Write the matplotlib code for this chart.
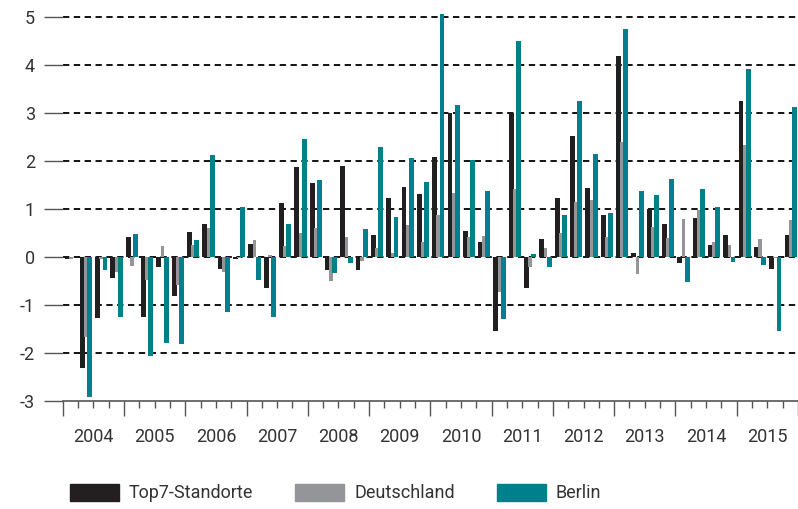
import numpy as np
import matplotlib.pyplot as plt
from matplotlib.patches import Patch

plt.rcParams['font.family'] = ['Roboto', 'DejaVu Sans']

years = ['2004', '2005', '2006', '2007', '2008', '2009',
         '2010', '2011', '2012', '2013', '2014', '2015']

# quarterly values, 2004 Q1 .. 2015 Q4
top7 = [-0.05, -2.31, -1.27, -0.44,
        0.42, -1.25, -0.20, -0.81,
        0.53, 0.68, -0.24, -0.05,
        0.27, -0.65, 1.13, 1.88,
        1.55, -0.27, 1.90, -0.28,
        0.45, 1.22, 1.45, 1.31,
        2.08, 2.99, 0.55, 0.32,
        -1.54, 2.99, -0.65, 0.37,
        1.22, 2.52, 1.43, 0.87,
        4.19, 0.08, 1.00, 0.69,
        -0.13, 0.82, 0.25, 0.45,
        3.24, 0.20, -0.24, 0.45]
deutschland = [-0.05, -1.66, -0.04, -0.31,
               -0.18, -0.48, 0.22, -0.58,
               0.25, 0.60, -0.31, -0.02,
               0.35, 0.04, 0.22, 0.49,
               0.61, -0.51, 0.42, -0.08,
               0.18, 0.08, 0.67, 0.32,
               0.88, 1.34, 0.41, 0.44,
               -0.72, 1.41, -0.20, 0.18,
               0.49, 1.14, 1.19, 0.42,
               2.40, -0.35, 0.63, 0.40,
               0.79, 0.97, 0.31, 0.25,
               2.33, 0.38, -0.02, 0.77]
berlin = [0.0, -2.91, -0.27, -1.25,
          0.48, -2.06, -1.80, -1.82,
          0.35, 2.13, -1.14, 1.05,
          -0.48, -1.24, 0.68, 2.45,
          1.60, -0.34, -0.12, 0.58,
          2.30, 0.84, 2.06, 1.56,
          5.06, 3.16, 2.02, 1.38,
          -1.30, 4.50, 0.06, -0.20,
          0.87, 3.24, 2.15, 0.92,
          4.76, 1.38, 1.29, 1.63,
          -0.53, 1.42, 1.05, -0.11,
          3.91, -0.17, -1.54, 3.12]

c_black = '#231f20'
c_gray = '#939598'
c_teal = '#00808a'
txt = '#333333'

fig = plt.figure(figsize=(7.98, 5.09), dpi=100)
ax = fig.add_axes([62.7 / 798, 1 - 401 / 509, 1 - 62.7 / 798, 398.4 / 509])

x = np.arange(len(top7))
ax.bar(x + 0.28, top7, width=0.32, color=c_black, zorder=3)
ax.bar(x + 0.52, deutschland, width=0.24, color=c_gray, zorder=3)
ax.bar(x + 0.76, berlin, width=0.32, color=c_teal, zorder=4)

ax.set_xlim(0, len(top7))
ax.set_ylim(-3, 5.3)

ax.set_yticks(range(-3, 6))
ax.set_yticklabels([str(v) for v in range(-3, 6)])
for v in range(-2, 6):
    ax.axhline(v, color='black', lw=1.3, ls=(0, (3.5, 2.5)), zorder=1)

ax.set_xticks(np.arange(0, len(top7) + 1, 4))
ax.set_xticklabels([])
ax.set_xticks(np.arange(0, len(top7) + 1, 1), minor=True)
ax.tick_params(axis='x', which='major', length=11, width=1, color='#555555', direction='out')
ax.tick_params(axis='x', which='minor', length=5, width=1, color='#555555', direction='out')
ax.tick_params(axis='y', length=14, width=1, color='#555555', pad=6, labelsize=13, labelcolor=txt)

for i, yr in enumerate(years):
    ax.text(i * 4 + 2, -0.09, yr, transform=ax.get_xaxis_transform(),
            ha='center', va='center', fontsize=13, color=txt)

for s in ['top', 'right', 'left']:
    ax.spines[s].set_visible(False)
ax.spines['bottom'].set_color('#555555')
ax.spines['bottom'].set_linewidth(1.2)

handles = [Patch(color=c_black, label='Top7-Standorte'),
           Patch(color=c_gray, label='Deutschland'),
           Patch(color=c_teal, label='Berlin')]
fig.legend(handles=handles, loc='center left', bbox_to_anchor=(70 / 798, 1 - 493 / 509),
           ncol=3, frameon=False, fontsize=13, handlelength=2.7, handleheight=1.1,
           handletextpad=0.55, columnspacing=2.35, borderpad=0, borderaxespad=0,
           labelcolor=txt)

fig.savefig('out.png', dpi=100)
